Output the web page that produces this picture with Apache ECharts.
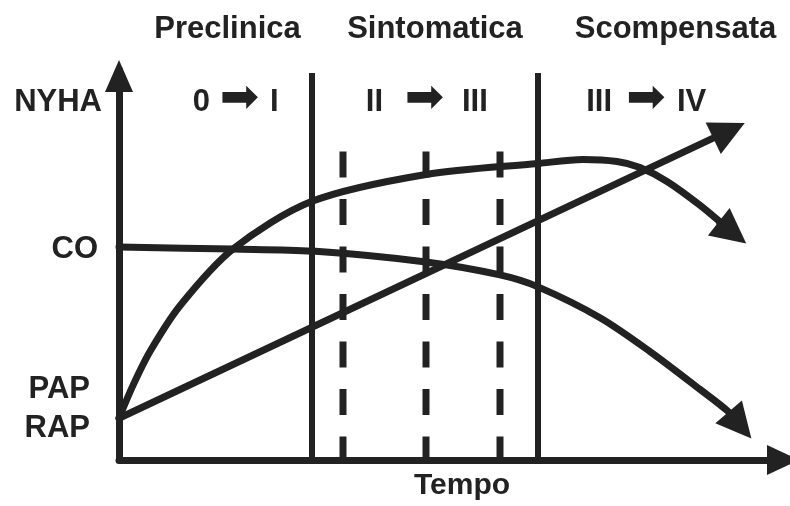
<!DOCTYPE html>
<html><head><meta charset="utf-8">
<script src="https://cdn.jsdelivr.net/npm/echarts@6/dist/echarts.min.js"></script>
<style>html,body{margin:0;padding:0;background:#fff}#c{width:790px;height:506px}</style>
</head><body><div id="c"></div>
<script>
// Schematic units: x = time from the y-axis, y = level above the time axis
const phaseNames = ['Preclinica', 'Sintomatica', 'Scompensata'];
const nyhaFrom = ['0', 'II', 'III'];
const nyhaTo = ['I', 'III', 'IV'];
const yTickValues = [359, 212, 51];
const yTickLabels = ['NYHA', 'CO', 'PAP\nRAP'];
const xAxisName = 'Tempo';

const phaseBoundaries = [193, 419];
const phaseBoundaryTop = 389;
const stageMarks = [224, 307, 381];
const stageMarkTop = 310;

const straightLine = [[0, 42], [610, 331]];
const straightArrow = [[594.5, 323.5], [610, 331]];

const riseCurve = [[0, 42], [14, 75], [31, 109], [61, 155], [114, 212], [193, 260], [307, 287], [419, 298], [464, 302], [498, 300], [521, 294], [548, 280], [581, 256], [613.5, 228.5]];
const riseArrow = [[599, 240], [613.5, 228.5]];

const coCurve = [[0, 214], [114, 212], [193, 210], [307, 199], [381, 186], [419, 174], [481, 143], [531, 109], [581, 71], [609.5, 48.5], [621, 35]];
const coArrow = [[609.5, 48.5], [621, 35]];

const INK = '#222222';
const FONT = 'Liberation Sans, Arial, sans-serif';

const series = [];
phaseBoundaries.forEach(x => series.push({
  type: 'line', data: [[x, 0], [x, phaseBoundaryTop]], symbol: 'none', silent: true,
  lineStyle: { color: INK, width: 6 }, z: 2
}));
stageMarks.forEach(x => series.push({
  type: 'line', data: [[x, stageMarkTop], [x, 0]], symbol: 'none', silent: true,
  lineStyle: { color: INK, width: 7, type: [26, 21.5] }, z: 2
}));
[straightLine, riseCurve, coCurve].forEach((d, i) => series.push({
  type: 'line', data: d, symbol: 'none', silent: true, smooth: i === 0 ? false : 0.3,
  lineStyle: { color: INK, width: 7, cap: 'round', join: 'round' }, z: 3
}));
series.push({
  type: 'lines', coordinateSystem: 'cartesian2d', silent: true,
  symbol: ['none', 'triangle'], symbolSize: 35,
  lineStyle: { color: INK, width: 7, opacity: 1 },
  data: [straightArrow, riseArrow, coArrow].map(c => ({ coords: c })), z: 4
});

const labelRich = {
  n: { fontSize: 31, fontWeight: 'bold', fontFamily: FONT, color: INK, padding: [0, 0, 0, 0] },
  c: { fontSize: 31, fontWeight: 'bold', fontFamily: FONT, color: INK, padding: [0, 4, 0, 0] },
  p: { fontSize: 31, fontWeight: 'bold', fontFamily: FONT, color: INK, lineHeight: 39, padding: [0, 12, 0, 0] }
};
const richKeys = ['n', 'c', 'p'];

const graphic = [];
const phaseCenters = [227.5, 435, 675.5];
phaseNames.forEach((t, i) => graphic.push({
  type: 'text', x: phaseCenters[i], y: 29, silent: true,
  style: { text: t, align: 'center', verticalAlign: 'middle', fontSize: 31, fontWeight: 'bold', fontFamily: FONT, fill: INK }
}));
const fromRight = [210, 383, 612], arrowCenter = [239.5, 424.5, 646], toLeft = [270, 462, 677];
nyhaFrom.forEach((t, i) => {
  graphic.push({ type: 'text', x: fromRight[i], y: 102, silent: true,
    style: { text: t, align: 'right', verticalAlign: 'middle', fontSize: 31, fontWeight: 'bold', fontFamily: FONT, fill: INK } });
  graphic.push({ type: 'text', x: arrowCenter[i], y: 100, silent: true,
    style: { text: '\u27A1', align: 'center', verticalAlign: 'middle', fontSize: 47, fontFamily: 'DejaVu Sans', fill: INK } });
  graphic.push({ type: 'text', x: toLeft[i], y: 102, silent: true,
    style: { text: nyhaTo[i], align: 'left', verticalAlign: 'middle', fontSize: 31, fontWeight: 'bold', fontFamily: FONT, fill: INK } });
});

const chart = echarts.init(document.getElementById('c'), null, { renderer: 'canvas' });
chart.setOption({
  animation: false,
  backgroundColor: '#ffffff',
  grid: { left: 119, right: 15, top: 70, bottom: 44, containLabel: false },
  xAxis: {
    type: 'value', min: 0, max: 656,
    name: xAxisName, nameLocation: 'middle', nameGap: 11,
    nameTextStyle: { fontSize: 30, fontWeight: 'bold', fontFamily: FONT, color: INK, padding: [0, 0, 0, 30], verticalAlign: 'top' },
    axisLine: { show: true, symbol: ['none', 'triangle'], symbolSize: [30, 32], symbolOffset: [0, 8], lineStyle: { color: INK, width: 7 } },
    axisTick: { show: false }, axisLabel: { show: false }, splitLine: { show: false }
  },
  yAxis: {
    type: 'value', min: 0, max: 392,
    axisLine: { show: true, symbol: ['none', 'triangle'], symbolSize: [28, 32], symbolOffset: [0, -6], lineStyle: { color: INK, width: 7 } },
    axisTick: { show: false }, splitLine: { show: false },
    axisLabel: {
      show: true, customValues: yTickValues, margin: 17, align: 'right',
      fontSize: 31, fontWeight: 'bold', fontFamily: FONT, color: INK,
      formatter: function (v) {
        const i = yTickValues.indexOf(v);
        if (i < 0) return '';
        return yTickLabels[i].split('\n').map(s => '{' + richKeys[i] + '|' + s + '}').join('\n');
      },
      rich: labelRich
    }
  },
  graphic: graphic,
  series: series
});
</script></body></html>
